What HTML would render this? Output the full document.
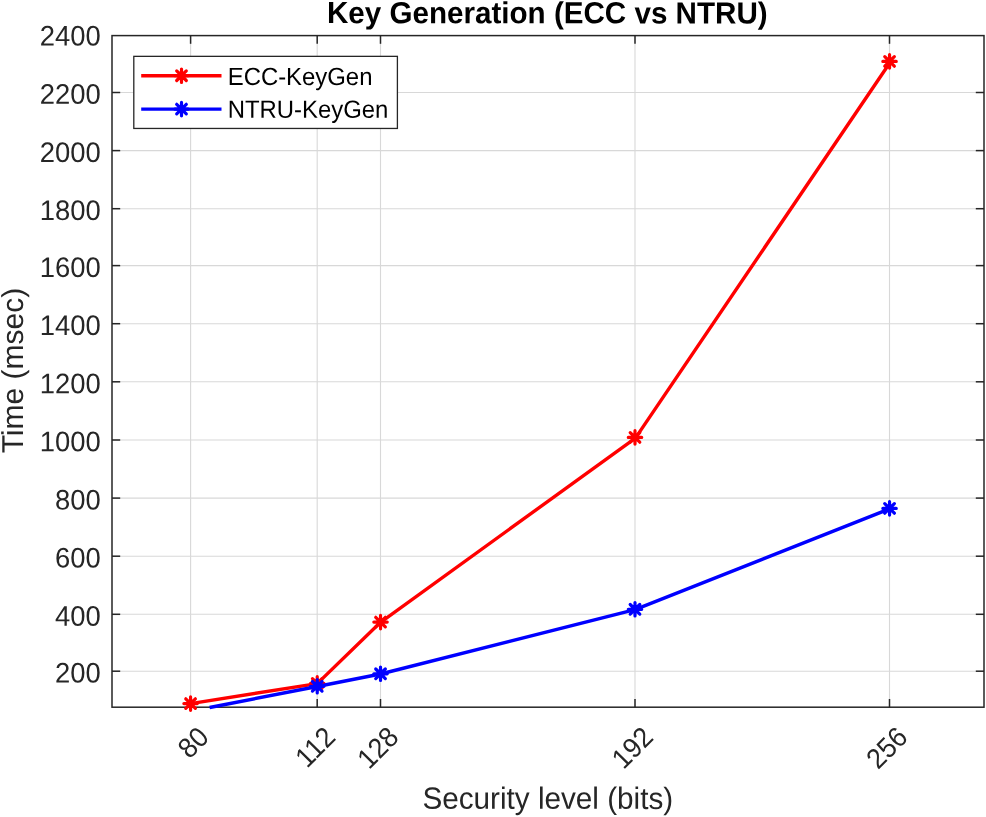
<!DOCTYPE html>
<html><head><meta charset="utf-8"><title>Key Generation (ECC vs NTRU)</title>
<style>
html,body{margin:0;padding:0;background:#fff;}
body{width:986px;height:817px;overflow:hidden;}
svg{display:block;}
text{font-family:"Liberation Sans",Arial,Helvetica,sans-serif;text-rendering:geometricPrecision;}
</style></head><body>
<svg width="986" height="817" viewBox="0 0 986 817">
<rect x="0" y="0" width="986" height="817" fill="#ffffff"/>

<g stroke="#d8d8d8" stroke-width="1.1" fill="none">
<line x1="190.6" y1="35.6" x2="190.6" y2="707.2"/>
<line x1="317.2" y1="35.6" x2="317.2" y2="707.2"/>
<line x1="380.5" y1="35.6" x2="380.5" y2="707.2"/>
<line x1="635.0" y1="35.6" x2="635.0" y2="707.2"/>
<line x1="889.5" y1="35.6" x2="889.5" y2="707.2"/>
<line x1="112.0" y1="671.2" x2="984.0" y2="671.2"/>
<line x1="112.0" y1="614.3" x2="984.0" y2="614.3"/>
<line x1="112.0" y1="556.2" x2="984.0" y2="556.2"/>
<line x1="112.0" y1="498.1" x2="984.0" y2="498.1"/>
<line x1="112.0" y1="440.0" x2="984.0" y2="440.0"/>
<line x1="112.0" y1="381.8" x2="984.0" y2="381.8"/>
<line x1="112.0" y1="323.7" x2="984.0" y2="323.7"/>
<line x1="112.0" y1="265.6" x2="984.0" y2="265.6"/>
<line x1="112.0" y1="208.7" x2="984.0" y2="208.7"/>
<line x1="112.0" y1="150.6" x2="984.0" y2="150.6"/>
<line x1="112.0" y1="92.5" x2="984.0" y2="92.5"/>
</g>
<g stroke="#262626" stroke-width="1.5" fill="none">
<rect x="112.0" y="35.6" width="872.0" height="671.6"/>
<line x1="190.6" y1="707.2" x2="190.6" y2="699.0"/>
<line x1="190.6" y1="35.6" x2="190.6" y2="43.8"/>
<line x1="317.2" y1="707.2" x2="317.2" y2="699.0"/>
<line x1="317.2" y1="35.6" x2="317.2" y2="43.8"/>
<line x1="380.5" y1="707.2" x2="380.5" y2="699.0"/>
<line x1="380.5" y1="35.6" x2="380.5" y2="43.8"/>
<line x1="635.0" y1="707.2" x2="635.0" y2="699.0"/>
<line x1="635.0" y1="35.6" x2="635.0" y2="43.8"/>
<line x1="889.5" y1="707.2" x2="889.5" y2="699.0"/>
<line x1="889.5" y1="35.6" x2="889.5" y2="43.8"/>
<line x1="112.0" y1="671.2" x2="120.2" y2="671.2"/>
<line x1="984.0" y1="671.2" x2="975.8" y2="671.2"/>
<line x1="112.0" y1="614.3" x2="120.2" y2="614.3"/>
<line x1="984.0" y1="614.3" x2="975.8" y2="614.3"/>
<line x1="112.0" y1="556.2" x2="120.2" y2="556.2"/>
<line x1="984.0" y1="556.2" x2="975.8" y2="556.2"/>
<line x1="112.0" y1="498.1" x2="120.2" y2="498.1"/>
<line x1="984.0" y1="498.1" x2="975.8" y2="498.1"/>
<line x1="112.0" y1="440.0" x2="120.2" y2="440.0"/>
<line x1="984.0" y1="440.0" x2="975.8" y2="440.0"/>
<line x1="112.0" y1="381.8" x2="120.2" y2="381.8"/>
<line x1="984.0" y1="381.8" x2="975.8" y2="381.8"/>
<line x1="112.0" y1="323.7" x2="120.2" y2="323.7"/>
<line x1="984.0" y1="323.7" x2="975.8" y2="323.7"/>
<line x1="112.0" y1="265.6" x2="120.2" y2="265.6"/>
<line x1="984.0" y1="265.6" x2="975.8" y2="265.6"/>
<line x1="112.0" y1="208.7" x2="120.2" y2="208.7"/>
<line x1="984.0" y1="208.7" x2="975.8" y2="208.7"/>
<line x1="112.0" y1="150.6" x2="120.2" y2="150.6"/>
<line x1="984.0" y1="150.6" x2="975.8" y2="150.6"/>
<line x1="112.0" y1="92.5" x2="120.2" y2="92.5"/>
<line x1="984.0" y1="92.5" x2="975.8" y2="92.5"/>
</g>
<polyline points="190.57,703.6 317.24,683.6 380.53,622.3 635.4,438.1 890.2,62.3" fill="none" stroke="#ff0000" stroke-width="3.4" stroke-linejoin="round"/>
<path transform="translate(190.57,703.60)" d="M-6.7 0H6.7M0 -6.7V6.7M-4.8 -4.8L4.8 4.8M-4.8 4.8L4.8 -4.8" fill="none" stroke="#ff0000" stroke-width="3.2" stroke-linecap="round"/>
<path transform="translate(317.24,683.40)" d="M-6.7 0H6.7M0 -6.7V6.7M-4.8 -4.8L4.8 4.8M-4.8 4.8L4.8 -4.8" fill="none" stroke="#ff0000" stroke-width="3.2" stroke-linecap="round"/>
<path transform="translate(380.53,622.10)" d="M-6.7 0H6.7M0 -6.7V6.7M-4.8 -4.8L4.8 4.8M-4.8 4.8L4.8 -4.8" fill="none" stroke="#ff0000" stroke-width="3.2" stroke-linecap="round"/>
<path transform="translate(635.00,437.40)" d="M-6.7 0H6.7M0 -6.7V6.7M-4.8 -4.8L4.8 4.8M-4.8 4.8L4.8 -4.8" fill="none" stroke="#ff0000" stroke-width="3.2" stroke-linecap="round"/>
<path transform="translate(889.55,61.40)" d="M-6.7 0H6.7M0 -6.7V6.7M-4.8 -4.8L4.8 4.8M-4.8 4.8L4.8 -4.8" fill="none" stroke="#ff0000" stroke-width="3.2" stroke-linecap="round"/>
<polyline points="209.6,707.5 317.24,686.5 380.53,674.0 635.0,609.7 889.55,508.8" fill="none" stroke="#0000ff" stroke-width="3.4" stroke-linejoin="round"/>
<path transform="translate(317.24,686.30)" d="M-6.7 0H6.7M0 -6.7V6.7M-4.8 -4.8L4.8 4.8M-4.8 4.8L4.8 -4.8" fill="none" stroke="#0000ff" stroke-width="3.2" stroke-linecap="round"/>
<path transform="translate(380.53,673.80)" d="M-6.7 0H6.7M0 -6.7V6.7M-4.8 -4.8L4.8 4.8M-4.8 4.8L4.8 -4.8" fill="none" stroke="#0000ff" stroke-width="3.2" stroke-linecap="round"/>
<path transform="translate(635.00,609.30)" d="M-6.7 0H6.7M0 -6.7V6.7M-4.8 -4.8L4.8 4.8M-4.8 4.8L4.8 -4.8" fill="none" stroke="#0000ff" stroke-width="3.2" stroke-linecap="round"/>
<path transform="translate(889.55,508.40)" d="M-6.7 0H6.7M0 -6.7V6.7M-4.8 -4.8L4.8 4.8M-4.8 4.8L4.8 -4.8" fill="none" stroke="#0000ff" stroke-width="3.2" stroke-linecap="round"/>
<g font-size="27.4" fill="#262626" text-anchor="end">
<text transform="translate(100.8,682.60) rotate(0.05) scale(1,1.030)">200</text>
<text transform="translate(100.8,625.71) rotate(0.05) scale(1,1.030)">400</text>
<text transform="translate(100.8,567.57) rotate(0.05) scale(1,1.030)">600</text>
<text transform="translate(100.8,509.47) rotate(0.05) scale(1,1.030)">800</text>
<text transform="translate(100.8,451.37) rotate(0.05) scale(1,1.030)">1000</text>
<text transform="translate(100.8,393.22) rotate(0.05) scale(1,1.030)">1200</text>
<text transform="translate(100.8,335.13) rotate(0.05) scale(1,1.030)">1400</text>
<text transform="translate(100.8,276.96) rotate(0.05) scale(1,1.030)">1600</text>
<text transform="translate(100.8,220.10) rotate(0.05) scale(1,1.030)">1800</text>
<text transform="translate(100.8,161.96) rotate(0.05) scale(1,1.030)">2000</text>
<text transform="translate(100.8,103.86) rotate(0.05) scale(1,1.030)">2200</text>
<text transform="translate(100.8,45.60) rotate(0.05) scale(1,1.030)">2400</text>
</g>
<g font-size="26.6" fill="#262626" text-anchor="end">
<text transform="translate(210.4,738.9) rotate(-45) scale(1,1.060)">80</text>
<text transform="translate(337.0,738.9) rotate(-45) scale(1,1.060)">112</text>
<text transform="translate(400.3,738.9) rotate(-45) scale(1,1.060)">128</text>
<text transform="translate(654.8,738.9) rotate(-45) scale(1,1.060)">192</text>
<text transform="translate(909.3,738.9) rotate(-45) scale(1,1.060)">256</text>
</g>
<text transform="translate(547.8,808.8) rotate(0.05) scale(1,1.035)" font-size="29.7" fill="#262626" text-anchor="middle">Security level (bits)</text>
<text transform="translate(23.0,370.6) rotate(-90) scale(1,1.005)" font-size="30" fill="#262626" text-anchor="middle">Time (msec)</text>
<text transform="translate(547.3,23.3) rotate(0.05) scale(1,1.031)" font-size="29.6" font-weight="bold" fill="#000" text-anchor="middle">Key Generation (ECC vs NTRU)</text>
<rect x="133.8" y="56.35" width="263.6" height="72.1" fill="#fff" stroke="#262626" stroke-width="1.3"/>
<line x1="141.2" y1="75.7" x2="221.5" y2="75.7" stroke="#ff0000" stroke-width="3.4"/>
<line x1="141.2" y1="109.1" x2="221.5" y2="109.1" stroke="#0000ff" stroke-width="3.4"/>
<path transform="translate(181.50,75.70)" d="M-6.7 0H6.7M0 -6.7V6.7M-4.8 -4.8L4.8 4.8M-4.8 4.8L4.8 -4.8" fill="none" stroke="#ff0000" stroke-width="3.2" stroke-linecap="round"/>
<path transform="translate(181.50,109.10)" d="M-6.7 0H6.7M0 -6.7V6.7M-4.8 -4.8L4.8 4.8M-4.8 4.8L4.8 -4.8" fill="none" stroke="#0000ff" stroke-width="3.2" stroke-linecap="round"/>
<text transform="translate(227.7,84.9) rotate(0.05) scale(1,1.035)" font-size="23.9" fill="#000">ECC-KeyGen</text>
<text transform="translate(227.7,117.7) rotate(0.05) scale(1,1.035)" font-size="23.9" fill="#000">NTRU-KeyGen</text>
</svg></body></html>
